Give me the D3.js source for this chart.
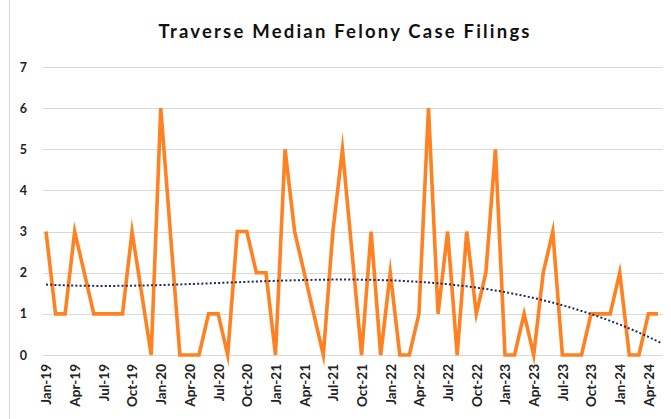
<!DOCTYPE html>
<html>
<head>
<meta charset="utf-8">
<script src="https://cdn.jsdelivr.net/npm/d3@7"></script>
<style>
  html, body { margin: 0; padding: 0; background: #fff; }
  svg { display: block; }
</style>
</head>
<body>
<svg id="chart" width="671" height="419"></svg>
<script>
// Monthly median felony case filings, Traverse, Jan 2019 – May 2024
const startMonth = "2019-01";
const filings = [
  3, 1, 1, 3, 2, 1, 1, 1, 1, 3, 1.5, 0,      // 2019
  6, 3, 0, 0, 0, 1, 1, 0, 3, 3, 2, 2,        // 2020
  0, 5, 3, 2, 1, 0, 3, 5, 2.5, 0, 3, 0,      // 2021
  2, 0, 0, 1, 6, 1, 3, 0, 3, 1, 2, 5,        // 2022
  0, 0, 1, 0, 2, 3, 0, 0, 0, 1, 1, 1,        // 2023
  2, 0, 0, 1, 1                              // 2024
];
const yTicks = [0, 1, 2, 3, 4, 5, 6, 7];
const titleText = "Traverse Median Felony Case Filings";
const trendOrder = 3;

const parseMonth = d3.timeParse("%Y-%m");
const fmtMonth = d3.timeFormat("%b-%y");
const first = parseMonth(startMonth);
const months = filings.map((_, i) => fmtMonth(d3.timeMonth.offset(first, i)));

const svg = d3.select("#chart");
const W = 671, H = 419;
const plot = { left: 43, right: 663, top: 67, bottom: 355 };
const font = "Lato, 'DejaVu Sans', sans-serif";

// chart frame
svg.append("rect")
  .attr("x", 9.5).attr("y", -5).attr("width", W).attr("height", H + 10)
  .attr("fill", "#fff").attr("stroke", "#d9d9d9").attr("stroke-width", 1);

const x = d3.scalePoint().domain(months).range([46, 658]);
const y = d3.scaleLinear().domain([0, 7]).range([plot.bottom, plot.top]);

// horizontal gridlines
svg.append("g").selectAll("line").data(yTicks).join("line")
  .attr("x1", plot.left).attr("x2", plot.right)
  .attr("y1", d => Math.round(y(d)) + 0.5).attr("y2", d => Math.round(y(d)) + 0.5)
  .attr("stroke", "#d9d9d9").attr("stroke-width", 1);

// y axis labels
const yAxis = d3.axisLeft(y).tickValues(yTicks).tickFormat(d3.format("d"))
  .tickSize(0).tickPadding(0);
svg.append("g").attr("transform", "translate(27,0)").call(yAxis)
  .call(g => g.select(".domain").remove())
  .selectAll("text")
  .attr("font-family", font)
  .attr("font-weight", 700).attr("font-size", 12.5).attr("fill", "#222");

// x axis labels every quarter
const quarterly = months.filter((_, i) => i % 3 === 0);
const xAxis = d3.axisBottom(x).tickValues(quarterly).tickSize(0).tickPadding(0);
svg.append("g").attr("transform", `translate(0,${plot.bottom})`).call(xAxis)
  .call(g => g.select(".domain").remove())
  .selectAll("text")
  .attr("font-family", font)
  .attr("font-weight", 700).attr("font-size", 13.5).attr("fill", "#222")
  .attr("text-anchor", "end")
  .attr("transform", "rotate(-90)")
  .attr("x", -9).attr("y", 0).attr("dy", "0.36em");

// data line
const line = d3.line()
  .x((d, i) => x(months[i]))
  .y(d => y(d));
svg.append("path").datum(filings)
  .attr("d", line)
  .attr("fill", "none").attr("stroke", "#ff8121")
  .attr("stroke-width", 3.6).attr("stroke-linejoin", "miter").attr("stroke-miterlimit", 10);

// polynomial least-squares trendline
function polyFit(ys, order) {
  const n = order + 1;
  const A = Array.from({ length: n }, () => new Array(n + 1).fill(0));
  ys.forEach((v, i) => {
    const t = i + 1;
    for (let r = 0; r < n; r++) {
      for (let c = 0; c < n; c++) A[r][c] += Math.pow(t, r + c);
      A[r][n] += v * Math.pow(t, r);
    }
  });
  for (let p = 0; p < n; p++) {
    let m = p;
    for (let r = p + 1; r < n; r++) if (Math.abs(A[r][p]) > Math.abs(A[m][p])) m = r;
    [A[p], A[m]] = [A[m], A[p]];
    for (let r = 0; r < n; r++) {
      if (r === p) continue;
      const f = A[r][p] / A[p][p];
      for (let c = p; c <= n; c++) A[r][c] -= f * A[p][c];
    }
  }
  const coef = A.map((row, i) => row[n] / row[i]);
  return t => coef.reduce((s, c, k) => s + c * Math.pow(t, k), 0);
}
const trend = polyFit(filings, trendOrder);
const xi = d3.scaleLinear().domain([0, filings.length - 1])
  .range([x(months[0]), x(months[months.length - 1])]);
const trendPts = d3.range(0, filings.length - 1 + 0.5, 0.25);
svg.append("path").datum(trendPts)
  .attr("d", d3.line().x(t => xi(t)).y(t => y(trend(t + 1))))
  .attr("fill", "none").attr("stroke", "#1f2a5c")
  .attr("stroke-width", 2).attr("stroke-dasharray", "2,2.2");

// title
svg.append("text")
  .attr("x", 344).attr("y", 38)
  .attr("text-anchor", "middle")
  .attr("font-family", font)
  .attr("font-weight", 700).attr("font-size", 18.5).attr("fill", "#111")
  .attr("textLength", 371).attr("lengthAdjust", "spacing")
  .text(titleText);
</script>
</body>
</html>
